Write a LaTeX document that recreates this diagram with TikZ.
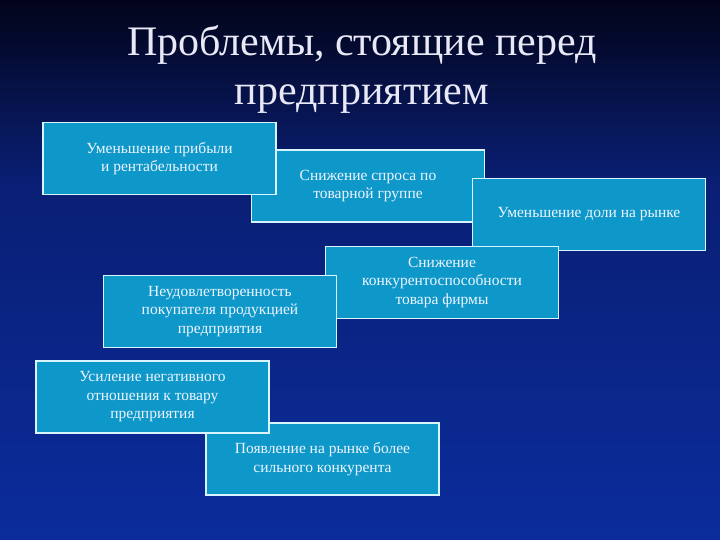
\documentclass[tikz,border=0pt]{standalone}
\usepackage{fontspec}
\setmainfont{Liberation Serif}
\definecolor{boxfill}{HTML}{0E97C9}
\definecolor{boxline}{HTML}{D8F4FF}
\definecolor{boxtext}{HTML}{EEF6FF}
\definecolor{bgtop}{HTML}{02041A}
\definecolor{bgmid}{HTML}{0A1F74}
\definecolor{bgbot}{HTML}{0B2C9C}
\definecolor{titlec}{HTML}{E8E8F6}
\tikzset{
  probbox/.style={draw=boxline, line width=1.2pt, fill=boxfill, text=boxtext,
    minimum width=233pt, minimum height=72pt, inner sep=2pt,
    align=center, font=\fontsize{15.5}{18.5}\selectfont},
  titletext/.style={text=titlec, align=center, font=\fontsize{42}{49}\selectfont}
}
\begin{document}
\begin{tikzpicture}[x=1pt,y=-1pt]
\useasboundingbox (0,0) rectangle (720,540);
\shade[top color=bgtop, bottom color=bgmid] (0,0) rectangle (720,181);
\shade[top color=bgmid, bottom color=bgbot] (0,180) rectangle (720,540);
\node[titletext] (title) at (362,69) {Проблемы, стоящие перед\\предприятием};
\node[probbox] (b2) at (368,186) {Снижение спроса по\\товарной группе};
\node[probbox] (b1) at (159.5,158.5) {Уменьшение прибыли\\и рентабельности};
\node[probbox] (b3) at (589,214.5) {Уменьшение доли на рынке};
\node[probbox] (b5) at (442,282.5) {Снижение\\конкурентоспособности\\товара фирмы};
\node[probbox] (b4) at (220,311.5) {Неудовлетворенность\\покупателя продукцией\\предприятия};
\node[probbox] (b7) at (322.5,459) {Появление на рынке более\\сильного конкурента};
\node[probbox] (b6) at (152.5,397) {Усиление негативного\\отношения к товару\\предприятия};
\end{tikzpicture}
\end{document}
